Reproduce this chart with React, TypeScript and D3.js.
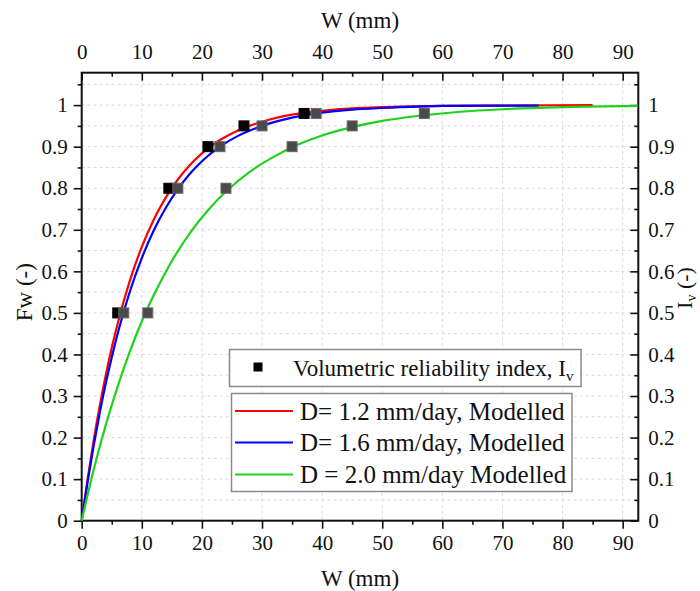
import { useEffect, useRef } from "react";
import * as d3 from "d3";

// Modelled curves
const redW = [0, 1, 2, 3, 4, 5, 6, 8, 10, 12, 14, 16, 18, 20, 23, 26, 30, 35, 40, 45, 50, 60, 70, 85];
const redF = [0, 0.102, 0.194, 0.276, 0.35, 0.416, 0.475, 0.577, 0.659, 0.725, 0.778, 0.821, 0.856, 0.884, 0.916, 0.939, 0.96, 0.977, 0.986, 0.992, 0.995, 0.998, 0.999, 1.0];

const blueW = [0, 1, 2, 3, 4, 5, 6, 8, 10, 12, 14, 16, 18, 20, 23, 26, 30, 35, 40, 45, 50, 60, 76];
const blueF = [0, 0.095, 0.181, 0.259, 0.33, 0.393, 0.451, 0.551, 0.632, 0.699, 0.753, 0.798, 0.835, 0.865, 0.9, 0.926, 0.95, 0.97, 0.982, 0.989, 0.993, 0.998, 0.999];

const greenW = [0, 2, 4, 6, 8, 10, 12, 15, 18, 21, 24, 28, 32, 36, 40, 45, 50, 56, 63, 70, 80, 92.5];
const greenF = [0, 0.123, 0.23, 0.324, 0.407, 0.48, 0.543, 0.625, 0.692, 0.747, 0.792, 0.84, 0.876, 0.905, 0.927, 0.947, 0.962, 0.974, 0.984, 0.99, 0.995, 0.998];

// Volumetric reliability index points
const ivLevels = [0.5, 0.8, 0.9, 0.95, 0.98];
const blackW = [6, 14.5, 21, 27, 37];
const grayW1 = [7, 16, 23, 30, 39];
const grayW2 = [11, 24, 35, 45, 57];

const seriesNames = ["D= 1.2 mm/day, Modelled", "D= 1.6 mm/day, Modelled", "D = 2.0 mm/day Modelled"];
const seriesColors = ["#ff0000", "#0000ff", "#1fd11f"];

const FONT = "Liberation Serif, Tinos, DejaVu Serif, Times New Roman, serif";

export default function App() {
	const ref = useRef<SVGSVGElement>(null);

	useEffect(() => {
		const svg = d3.select(ref.current);
		svg.selectAll("*").remove();

		const left = 81.7, right = 638.3, top = 72.7, bottom = 520.7;

		const x = d3.scaleLinear().domain([0, 92.6]).range([left, right]);
		const y = d3.scaleLinear().domain([0, 1.078]).range([bottom, top]);

		svg.append("rect").attr("width", 700).attr("height", 591).attr("fill", "#fff");

		// Grid (dashed)
		const grid = svg.append("g").attr("stroke", "#d9d9d9").attr("stroke-width", 1).attr("stroke-dasharray", "3,3");
		d3.range(10, 91, 10).forEach(v => {
			grid.append("line").attr("x1", x(v)).attr("x2", x(v)).attr("y1", top).attr("y2", bottom);
		});
		d3.range(1, 22).map(i => i * 0.05).forEach(v => {
			grid.append("line").attr("x1", left).attr("x2", right).attr("y1", y(v)).attr("y2", y(v));
		});

		// Axes
		const fmtY = (d: d3.NumberValue) => (Math.abs(+d - Math.round(+d)) < 1e-9 ? String(Math.round(+d)) : (+d).toFixed(1));
		const xTicks = d3.range(0, 91, 10);
		const xMinor = d3.range(5, 91, 10);
		const yTicks = d3.range(0, 11).map(i => i / 10);
		const yMinor = d3.range(0, 11).map(i => i / 10 + 0.05);

		const styleAxis = (g: d3.Selection<SVGGElement, unknown, null, undefined>) => {
			g.select(".domain").remove();
			g.selectAll("line").attr("stroke", "#111").attr("stroke-width", 1.6);
			g.selectAll("text").attr("font-family", FONT).attr("font-size", 21).attr("fill", "#111");
		};

		svg.append("g").attr("transform", `translate(0,${bottom})`)
			.call(d3.axisBottom(x).tickValues(xTicks).tickSize(8).tickPadding(6).tickFormat(d3.format("d")))
			.call(styleAxis);
		svg.append("g").attr("transform", `translate(0,${bottom})`)
			.call(d3.axisBottom(x).tickValues(xMinor).tickSize(4).tickFormat(() => ""))
			.call(styleAxis);

		svg.append("g").attr("transform", `translate(0,${top})`)
			.call(d3.axisTop(x).tickValues(xTicks).tickSizeInner(-8).tickSizeOuter(0).tickPadding(14).tickFormat(d3.format("d")))
			.call(styleAxis);
		svg.append("g").attr("transform", `translate(0,${top})`)
			.call(d3.axisTop(x).tickValues(xMinor).tickSizeInner(-4).tickSizeOuter(0).tickFormat(() => ""))
			.call(styleAxis);

		svg.append("g").attr("transform", `translate(${left},0)`)
			.call(d3.axisLeft(y).tickValues(yTicks).tickSize(8).tickPadding(6).tickFormat(fmtY))
			.call(styleAxis);
		svg.append("g").attr("transform", `translate(${left},0)`)
			.call(d3.axisLeft(y).tickValues(yMinor).tickSize(4).tickFormat(() => ""))
			.call(styleAxis);

		svg.append("g").attr("transform", `translate(${right},0)`)
			.call(d3.axisRight(y).tickValues(yTicks).tickSizeInner(-8).tickSizeOuter(0).tickPadding(10).tickFormat(fmtY))
			.call(styleAxis);
		svg.append("g").attr("transform", `translate(${right},0)`)
			.call(d3.axisRight(y).tickValues(yMinor).tickSizeInner(-4).tickSizeOuter(0).tickFormat(() => ""))
			.call(styleAxis);

		// Frame
		svg.append("rect")
			.attr("x", left).attr("y", top)
			.attr("width", right - left).attr("height", bottom - top)
			.attr("fill", "none").attr("stroke", "#111").attr("stroke-width", 2);

		// Curves
		const line = d3.line<[number, number]>()
			.x(d => x(d[0]))
			.y(d => y(d[1]))
			.curve(d3.curveMonotoneX);

		const curves: [number[], number[]][] = [[redW, redF], [blueW, blueF], [greenW, greenF]];
		curves.forEach(([ws, fs], i) => {
			svg.append("path")
				.datum(ws.map((w, j) => [w, fs[j]] as [number, number]))
				.attr("d", line)
				.attr("fill", "none")
				.attr("stroke", seriesColors[i])
				.attr("stroke-width", 2.2);
		});

		// Markers
		const sq = 10;
		const drawPts = (ws: number[], fill: string, stroke: string) => {
			svg.append("g").selectAll("rect")
				.data(ws.map((w, j) => [w, ivLevels[j]]))
				.enter()
				.append("rect")
				.attr("x", d => x(d[0]) - sq / 2)
				.attr("y", d => y(d[1]) - sq / 2)
				.attr("width", sq)
				.attr("height", sq)
				.attr("fill", fill)
				.attr("stroke", stroke)
				.attr("stroke-width", 1);
		};
		drawPts(blackW, "#000", "#000");
		drawPts(grayW1, "#4a4a4a", "#666");
		drawPts(grayW2, "#4a4a4a", "#666");

		// Legend 1
		const lg1 = svg.append("g");
		lg1.append("rect")
			.attr("x", 229.5).attr("y", 349.5).attr("width", 351.5).attr("height", 37)
			.attr("fill", "#fff").attr("stroke", "#8a8a8a").attr("stroke-width", 1.5);
		lg1.append("rect")
			.attr("x", 258 - 4.5).attr("y", 367 - 4.5).attr("width", 9).attr("height", 9)
			.attr("fill", "#000");
		const t1 = lg1.append("text")
			.attr("x", 293).attr("y", 376)
			.attr("font-family", FONT).attr("font-size", 23).attr("fill", "#111")
			.text("Volumetric reliability index, I");
		t1.append("tspan").attr("font-size", 15).attr("dy", 5).text("v");

		// Legend 2
		const lg2 = svg.append("g");
		lg2.append("rect")
			.attr("x", 231.5).attr("y", 393.5).attr("width", 340.5).attr("height", 98)
			.attr("fill", "#fff").attr("stroke", "#8a8a8a").attr("stroke-width", 1.5);
		const rowY = [411, 442.5, 474.5];
		seriesNames.forEach((name, i) => {
			lg2.append("line")
				.attr("x1", 235).attr("x2", 293)
				.attr("y1", rowY[i]).attr("y2", rowY[i])
				.attr("stroke", seriesColors[i]).attr("stroke-width", 2.2);
			lg2.append("text")
				.attr("x", 300).attr("y", rowY[i] + 8.5)
				.attr("font-family", FONT).attr("font-size", 25).attr("fill", "#111")
				.text(name);
		});

		// Axis titles
		svg.append("text")
			.attr("x", (left + right) / 2).attr("y", 28)
			.attr("text-anchor", "middle")
			.attr("font-family", FONT).attr("font-size", 23).attr("fill", "#111")
			.text("W (mm)");
		svg.append("text")
			.attr("x", (left + right) / 2).attr("y", 586)
			.attr("text-anchor", "middle")
			.attr("font-family", FONT).attr("font-size", 23).attr("fill", "#111")
			.text("W (mm)");
		svg.append("text")
			.attr("transform", `translate(32,${y(0.55)}) rotate(-90)`)
			.attr("text-anchor", "middle")
			.attr("font-family", FONT).attr("font-size", 23).attr("fill", "#111")
			.text("Fw (-)");
		const rt = svg.append("text")
			.attr("transform", `translate(692,${y(0.56)}) rotate(-90)`)
			.attr("text-anchor", "middle")
			.attr("font-family", FONT).attr("font-size", 22).attr("fill", "#111")
			.text("I");
		rt.append("tspan").attr("font-size", 14).attr("dy", 4).text("v");
		rt.append("tspan").attr("dy", -4).text(" (-)");
	}, []);

	return (
		<svg
			ref={ref}
			width={700}
			height={591}
			style={{ position: "absolute", left: 0, top: 0 }}
		/>
	);
}
